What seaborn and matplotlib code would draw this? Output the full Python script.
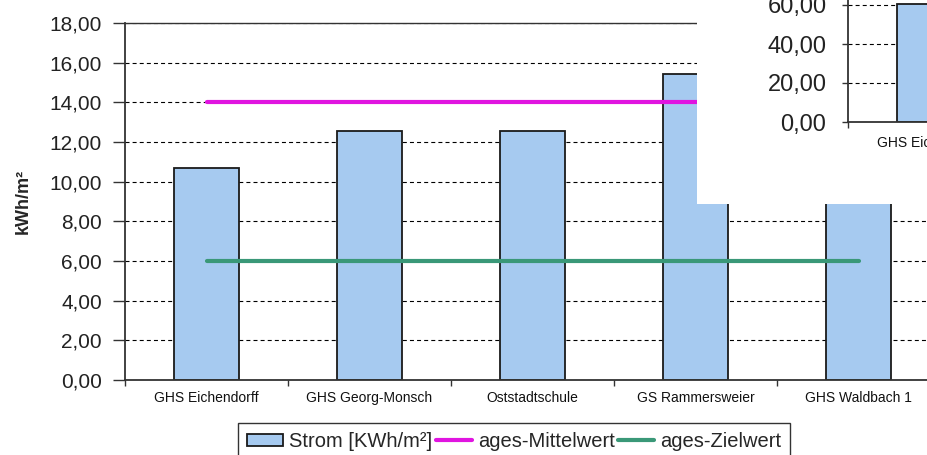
import matplotlib
matplotlib.use("Agg")
import matplotlib.pyplot as plt
import matplotlib.ticker as mticker
import seaborn as sns

# Stromverbrauch je Schule (kWh/m²)
schulen = ["GHS Eichendorff", "GHS Georg-Monsch", "Oststadtschule",
           "GS Rammersweier", "GHS Waldbach 1"]
strom = [10.7, 12.55, 12.55, 15.45, 12.9]
mittelwert = 14.0
zielwert = 6.0

# second chart (pasted on top, partly visible)
schulen_b = ["GHS Eichendorff"]
werte_b = [60.5]

y_ticks = [0, 2, 4, 6, 8, 10, 12, 14, 16, 18]
y_ticks_b = [0, 20, 40, 60, 80]

BAR = "#a6caf0"
EDGE = "#1a1a1a"
MAGENTA = "#e014e0"
GREEN = "#3a9878"
AXC = "#333333"

sns.set_style("white")
plt.rcParams["font.family"] = ["Liberation Sans", "DejaVu Sans"]

W, H = 927, 455
fig = plt.figure(figsize=(W / 100, H / 100), dpi=100)
fig.patch.set_facecolor("white")


def fax(left, top, width, height):
    return fig.add_axes([left / W, (H - top - height) / H, width / W, height / H])


def comma_fmt(v, _pos):
    return f"{v:.2f}".replace(".", ",")


def style_axis(ax, ylim, ticks, tick_len, tick_pad, ysize):
    ax.set_xlim(-0.5, 4.5)
    ax.set_ylim(*ylim)
    ax.set_yticks(ticks)
    ax.yaxis.set_major_formatter(mticker.FuncFormatter(comma_fmt))
    ax.tick_params(axis="y", which="major", direction="out", length=tick_len,
                   width=1.0, color=AXC, pad=tick_pad, labelsize=ysize,
                   labelcolor="#222222", left=True)
    ax.set_xticks(range(5))
    ax.set_xticks([i - 0.5 for i in range(6)], minor=True)
    ax.tick_params(axis="x", which="major", length=0, labelsize=10,
                   labelcolor="#111111")
    ax.tick_params(axis="x", which="minor", direction="out", length=4,
                   width=1.0, color=AXC, bottom=True)
    ax.yaxis.grid(True, color="black", linestyle=(0, (3.6, 2.8)), linewidth=0.8)
    ax.xaxis.grid(False)
    ax.set_axisbelow(True)
    ax.spines["right"].set_visible(False)
    for s in ("left", "bottom"):
        ax.spines[s].set_color(AXC)
        ax.spines[s].set_linewidth(1.3)
    ax.set_xlabel("")
    ax.set_ylabel("")


# ---- main chart ----
ax = fax(125, 23, 815, 357)
sns.barplot(x=schulen, y=strom, ax=ax, color=BAR, saturation=1, width=0.4,
            edgecolor=EDGE, linewidth=1.3)
style_axis(ax, (0, 18), y_ticks, 8.6, 8, 15)
ax.set_xticks(range(len(schulen)))
ax.set_xticklabels(schulen)
ax.tick_params(axis="x", which="major", pad=8)
ax.spines["top"].set_color(AXC)
ax.spines["top"].set_linewidth(1.0)
ax.set_ylabel("kWh/m²", fontsize=13, fontweight="bold")
ax.yaxis.set_label_coords(-0.114, 0.5)

xs = [0, len(schulen) - 1]
l_mit, = ax.plot(xs, [mittelwert, mittelwert], color=MAGENTA, lw=3,
                 solid_capstyle="round", zorder=5)
l_ziel, = ax.plot(xs, [zielwert, zielwert], color=GREEN, lw=3,
                  solid_capstyle="round", zorder=5)

leg = fig.legend([ax.patches[0], l_mit, l_ziel],
                 ["Strom [KWh/m²]", "ages-Mittelwert", "ages-Zielwert"],
                 loc="upper left", bbox_to_anchor=(238 / W, (H - 423) / H),
                 ncol=3, fontsize=14.5, frameon=True, fancybox=False,
                 borderpad=0.45, borderaxespad=0, handlelength=1.8,
                 handleheight=0.55, handletextpad=0.3, columnspacing=0.15)
leg.get_frame().set_edgecolor("black")
leg.get_frame().set_linewidth(1.0)

# ---- white box with the second chart ----
box = fax(697, 0, 230, 204)
box.set_facecolor("white")
box.set_xticks([])
box.set_yticks([])
for s in box.spines.values():
    s.set_visible(False)

ax2 = fax(848, -34, 815, 156)
ax2.patch.set_alpha(0)
sns.barplot(x=schulen_b, y=werte_b, ax=ax2, color=BAR, saturation=1,
            width=0.4, edgecolor=EDGE, linewidth=1.3)
style_axis(ax2, (0, 80), y_ticks_b, 4.5, 11, 17)
ax2.set_xticks(range(len(schulen_b)))
ax2.set_xticklabels(schulen_b)
ax2.tick_params(axis="x", which="major", pad=10)
ax2.spines["top"].set_visible(False)

fig.savefig("out.png", dpi=100)
